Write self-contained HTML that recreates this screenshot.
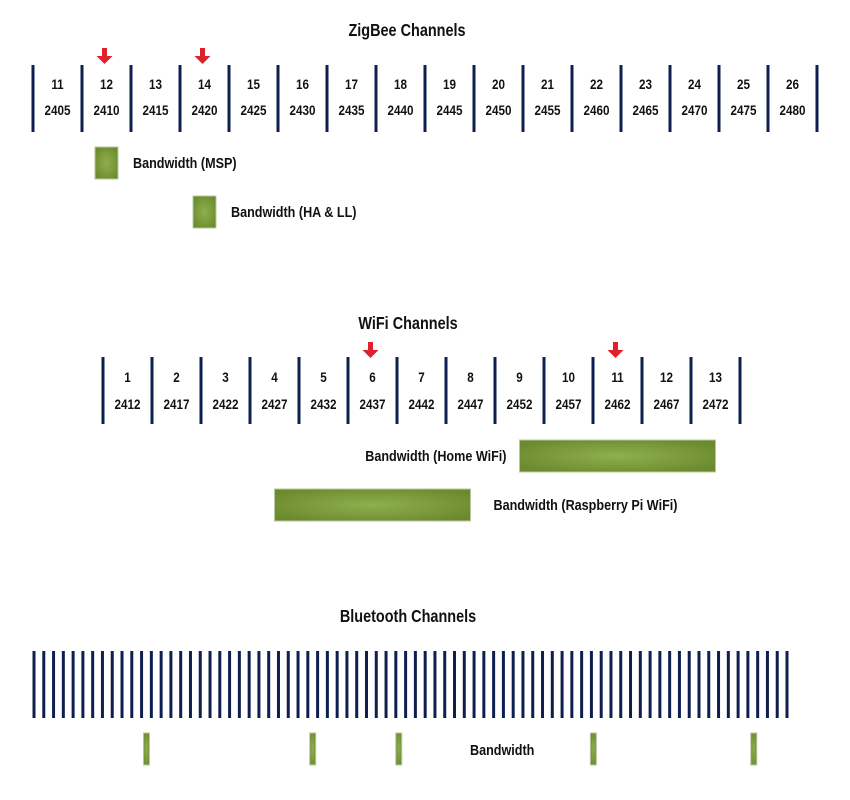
<!DOCTYPE html>
<html><head><meta charset="utf-8"><style>
body{margin:0;background:#fff;}
svg{display:block;font-family:"Liberation Sans Narrow","Liberation Sans",sans-serif;font-weight:bold;}
</style></head><body>
<svg id="c" width="850" height="800" viewBox="0 0 850 800">
<defs>
<radialGradient id="g" cx="50%" cy="50%" r="60%"><stop offset="0" stop-color="#8fb04e"/><stop offset="1" stop-color="#6b8a2e"/></radialGradient>
</defs>
</svg>
<script>
const zbChannels=[11,12,13,14,15,16,17,18,19,20,21,22,23,24,25,26];
const zbFreqs=[2405,2410,2415,2420,2425,2430,2435,2440,2445,2450,2455,2460,2465,2470,2475,2480];
const zbMarked=[12,14];
const wfChannels=[1,2,3,4,5,6,7,8,9,10,11,12,13];
const wfFreqs=[2412,2417,2422,2427,2432,2437,2442,2447,2452,2457,2462,2467,2472];
const wfMarked=[6,11];
const wfBands=[{label:"Bandwidth (Home WiFi)",from:9,to:13},{label:"Bandwidth (Raspberry Pi WiFi)",from:4,to:8}];
const btCount=78;
const btBands=[11.5,28.5,37.3,57.2,73.6];
const zbBands=[{label:"Bandwidth (MSP)",ch:12},{label:"Bandwidth (HA & LL)",ch:14}];

const svg=document.getElementById('c');
const NS='http://www.w3.org/2000/svg';
function mk(tag,attrs,parent){const e=document.createElementNS(NS,tag);for(const k in attrs)e.setAttribute(k,attrs[k]);(parent||svg).appendChild(e);return e;}
function txt(x,y,s,size,anchor,sx){const t=mk('text',{x:0,y:0,transform:`translate(${x},${y}) scale(${sx||0.9},1.05)`,'font-size':size,'text-anchor':anchor||'middle',fill:'#111'});t.textContent=s;return t;}
function arrow(x,y){const g=mk('g',{});
 mk('rect',{x:x-2.5,y:y,width:5,height:9,fill:'#e0202a'},g);mk('polygon',{points:`${x-8},${y+8} ${x+8},${y+8} ${x},${y+16}`,fill:'#e0202a'},g);}
function band(x,y,w,h){const r=mk('rect',{x:x,y:y,width:w,height:h,fill:'url(#g)',stroke:'#b8c8a0','stroke-width':1});return r;}

// ZigBee
const zbX=i=>33+i*49;
let t=txt(407,36,'ZigBee Channels',17,'middle',0.85);
for(let i=0;i<=zbChannels.length;i++){const l=mk('line',{x1:zbX(i),x2:zbX(i),y1:65,y2:132,stroke:'#0d1f4f','stroke-width':3});}
zbChannels.forEach((c,i)=>{const cx=zbX(i)+24.5;
 let a=txt(cx,89,String(c),13);
 let b=txt(cx,115,String(zbFreqs[i]),13);
 if(zbMarked.includes(c))arrow(cx-2,48);});
zbBands.forEach((b,k)=>{const i=zbChannels.indexOf(b.ch);const x=zbX(i)+13;const y=147+k*49;
 const r=band(x,y,23,32);
 const t2=txt(x+38,y+21,b.label,14,'start');});

// WiFi
const wfX=i=>103+i*49;
t=txt(408,329,'WiFi Channels',17,'middle',0.85);
for(let i=0;i<=wfChannels.length;i++){const l=mk('line',{x1:wfX(i),x2:wfX(i),y1:357,y2:424,stroke:'#0d1f4f','stroke-width':3});}
wfChannels.forEach((c,i)=>{const cx=wfX(i)+24.5;
 let a=txt(cx,382,String(c),13);
 let b=txt(cx,409,String(wfFreqs[i]),13);
 if(wfMarked.includes(c))arrow(cx-2,342);});
wfBands.forEach((b,k)=>{const x=wfX(b.from-1)+24.5;const w=(b.to-b.from)*49;const y=440+k*49;
 const r=band(x,y,w,32);
 const t2=k===0?txt(x-13,y+21,b.label,14,'end'):txt(x+w+23,y+21,b.label,14,'start');
 });

// Bluetooth
const btX=i=>34+i*(787-34)/(btCount-1);
t=txt(408,622,'Bluetooth Channels',17,'middle',0.85);
for(let i=0;i<btCount;i++){const l=mk('line',{x1:btX(i),x2:btX(i),y1:651,y2:718,stroke:'#0d1f4f','stroke-width':3});}
btBands.forEach(p=>{const r=band(btX(p)-3,733,6,32);});
t=txt(470,755,'Bandwidth',14,'start');
</script>
</body></html>
